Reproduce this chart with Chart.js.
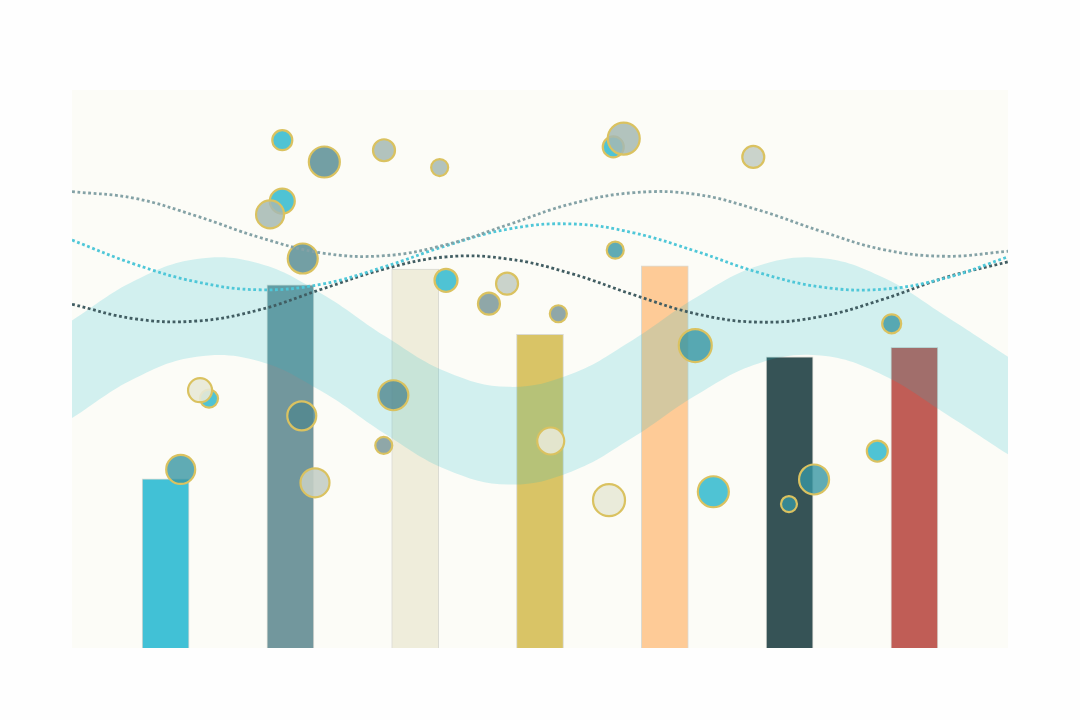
<!DOCTYPE html>
<html>
<head>
<meta charset="utf-8">
<script src="https://cdn.jsdelivr.net/npm/chart.js@4.4.1/dist/chart.umd.min.js"></script>
<style>
  html, body { margin: 0; padding: 0; background: #fefefe; }
  #wrap { width: 1080px; height: 720px; }
</style>
</head>
<body>
<div id="wrap"><canvas id="myChart" width="1080" height="720"></canvas></div>
<script>
// bars
const barX = [1, 2, 3, 4, 5, 6, 7]
const barValues = [30.3, 65.1, 67.9, 56.2, 68.5, 52.2, 53.9]
const barColors = ["#41c1d6", "#72979d", "#efeddb", "#d9c466", "#fecb97", "#365356", "#c05d56"]

// wave lines, sampled every half unit
const waveX = [0.25, 0.75, 1.25, 1.75, 2.25, 2.75, 3.25, 3.75, 4.25, 4.75, 5.25, 5.75, 6.25, 6.75, 7.25, 7.75]
const greyLine = [81.8, 80.6, 77.4, 73.6, 70.8, 70.3, 72.3, 75.9, 79.6, 81.6, 81.3, 78.5, 74.7, 71.4, 70.2, 71.1]
const cyanLine = [73.1, 68.8, 65.6, 64.2, 65.2, 68.3, 72.1, 75.1, 76.0, 74.4, 71.1, 67.3, 64.7, 64.3, 66.3, 70.1]
const darkLine = [61.6, 59.0, 58.6, 60.6, 64.3, 67.9, 70.1, 69.7, 67.1, 63.3, 59.9, 58.4, 59.4, 62.5, 66.4, 69.2]
const bandTop = [58.7, 65.8, 69.7, 68.9, 63.5, 56.0, 49.5, 46.8, 49.1, 55.3, 62.8, 68.5, 69.9, 66.4, 59.5, 52.2]
const bandBottom = [41.2, 48.3, 52.2, 51.4, 46.0, 38.5, 32.0, 29.3, 31.6, 37.8, 45.3, 51.0, 52.4, 48.9, 42.0, 34.7]

// bubbles: x, y, radius
const cyanBubX = [1.935, 1.935, 3.247, 4.587, 1.348, 5.389, 6.703]
const cyanBubY = [91.0, 80.1, 65.9, 89.8, 44.7, 28.0, 35.3]
const cyanBubR = [10, 12.5, 11.5, 10.5, 9, 15.5, 10.5]

const tealBubX = [4.603, 5.244, 1.121, 6.818, 6.196, 5.995]
const tealBubY = [71.3, 54.2, 32.0, 58.1, 30.2, 25.8]
const tealBubR = [8.5, 16.5, 14.5, 9.5, 15, 8]

const slateBubX = [2.272, 2.099, 2.091, 2.825]
const slateBubY = [87.1, 69.8, 41.6, 45.3]
const slateBubR = [15.5, 15, 14.5, 15]

const greyBubX = [3.591, 4.147, 2.748]
const greyBubY = [61.7, 59.9, 36.3]
const greyBubR = [11, 8.5, 8.5]

const sageBubX = [2.75, 3.196, 1.837, 4.671]
const sageBubY = [89.2, 86.1, 77.7, 91.3]
const sageBubR = [11, 8.5, 14, 16]

const paleBubX = [5.709, 3.736, 2.197]
const paleBubY = [88.0, 65.3, 29.6]
const paleBubR = [11, 11, 14.5]

const beigeBubX = [1.276, 4.086, 4.553]
const beigeBubY = [46.2, 37.1, 26.5]
const beigeBubR = [12, 13.5, 16]

const canvas = document.querySelector("#myChart")

function points(xs, ys) {
    return xs.map((x, i) => ({ x: x, y: ys[i] }))
}

function bubbles(xs, ys, rs) {
    return xs.map((x, i) => ({ x: x, y: ys[i], r: rs[i] }))
}

function bubbleSet(data, color, order) {
    return {
        type: "bubble",
        data,
        backgroundColor: color,
        borderColor: "#dac260",
        borderWidth: 2.2,
        order
    }
}

function dotted(data, color) {
    return {
        type: "line",
        data,
        borderColor: color,
        borderWidth: 2.8,
        borderDash: [2.8, 2.6],
        borderCapStyle: "butt",
        pointRadius: 0,
        tension: 0.4,
        fill: false,
        order: 1
    }
}

const plotBackground = {
    id: "plotBackground",
    beforeDraw(chart) {
        const { ctx, chartArea } = chart
        ctx.save()
        ctx.fillStyle = "#fcfcf7"
        ctx.fillRect(chartArea.left, chartArea.top, chartArea.right - chartArea.left, chartArea.bottom - chartArea.top)
        ctx.restore()
    }
}

const datasets = [
    {
        type: "bar",
        data: points(barX, barValues),
        backgroundColor: barColors,
        borderColor: "rgba(140,140,130,0.3)",
        borderWidth: 1,
        barThickness: 47,
        order: 10
    },
    {
        type: "line",
        data: points(waveX, bandTop),
        borderWidth: 0,
        pointRadius: 0,
        tension: 0.4,
        backgroundColor: "rgba(23,190,207,0.18)",
        fill: "+1",
        order: 8
    },
    {
        type: "line",
        data: points(waveX, bandBottom),
        borderWidth: 0,
        pointRadius: 0,
        tension: 0.4,
        fill: false,
        order: 8
    },
    bubbleSet(bubbles(cyanBubX, cyanBubY, cyanBubR), "rgba(60,188,207,0.9)", 6),
    bubbleSet(bubbles(tealBubX, tealBubY, tealBubR), "rgba(56,150,162,0.8)", 5),
    bubbleSet(bubbles(slateBubX, slateBubY, slateBubR), "rgba(80,135,142,0.8)", 5),
    bubbleSet(bubbles(greyBubX, greyBubY, greyBubR), "rgba(115,145,148,0.8)", 5),
    bubbleSet(bubbles(sageBubX, sageBubY, sageBubR), "rgba(165,185,179,0.85)", 4),
    bubbleSet(bubbles(paleBubX, paleBubY, paleBubR), "rgba(196,206,197,0.9)", 4),
    bubbleSet(bubbles(beigeBubX, beigeBubY, beigeBubR), "rgba(232,233,214,0.9)", 4),
    dotted(points(waveX, greyLine), "#84a2a6"),
    dotted(points(waveX, cyanLine), "#4fc7d8"),
    dotted(points(waveX, darkLine), "#415d62")
]

const config = {
    type: "bar",
    data: { datasets },
    options: {
        responsive: false,
        animation: false,
        layout: { padding: { left: 72, right: 72, top: 90, bottom: 72 } },
        plugins: { legend: { display: false }, tooltip: { enabled: false } },
        scales: {
            x: { type: "linear", min: 0.25, max: 7.75, offset: false, display: false },
            y: { min: 0, max: 100, display: false }
        }
    },
    plugins: [plotBackground]
}

new Chart(canvas, config)
</script>
</body>
</html>
